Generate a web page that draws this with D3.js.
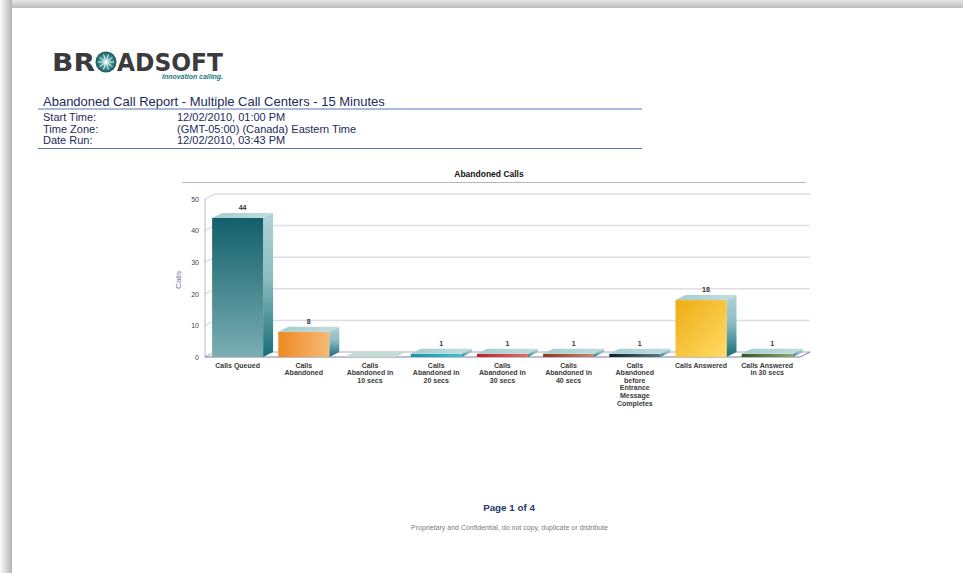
<!DOCTYPE html>
<html>
<head>
<meta charset="utf-8">
<script src="https://cdn.jsdelivr.net/npm/d3@7"></script>
<style>
  html, body { margin: 0; padding: 0; background: #fff; }
  svg { display: block; font-family: "Liberation Sans", Arial, sans-serif; }
</style>
</head>
<body>
<svg id="page" width="963" height="573"></svg>
<script>
// Report data
const categories = [
  "Calls Queued",
  "Calls Abandoned",
  "Calls Abandoned in 10 secs",
  "Calls Abandoned in 20 secs",
  "Calls Abandoned in 30 secs",
  "Calls Abandoned in 40 secs",
  "Calls Abandoned before Entrance Message Completes",
  "Calls Answered",
  "Calls Answered in 30 secs"
];
const categoryLines = [
  ["Calls Queued"],
  ["Calls", "Abandoned"],
  ["Calls", "Abandoned in", "10 secs"],
  ["Calls", "Abandoned in", "20 secs"],
  ["Calls", "Abandoned in", "30 secs"],
  ["Calls", "Abandoned in", "40 secs"],
  ["Calls", "Abandoned", "before", "Entrance", "Message", "Completes"],
  ["Calls Answered"],
  ["Calls Answered", "in 30 secs"]
];
const callCounts = [44, 8, 0, 1, 1, 1, 1, 18, 1];
const yTicks = [0, 10, 20, 30, 40, 50];

const headerLabels = ["Start Time:", "Time Zone:", "Date Run:"];
const headerValues = ["12/02/2010, 01:00 PM", "(GMT-05:00) (Canada) Eastern Time", "12/02/2010, 03:43 PM"];

// Face colours for each bar: [dark, light, gradient direction]
const barColors = [
  ["#125f6a", "#7aaeb3", "v"],
  ["#ee8a22", "#f6b976", "h"],
  ["#9cc8c0", "#c9e0da", "h"],
  ["#1597aa", "#3fc0cc", "h"],
  ["#c41d26", "#e56a6a", "h"],
  ["#8e3516", "#c98a6a", "h"],
  ["#06232b", "#5c7c84", "h"],
  ["#eeac14", "#ffdc66", "d"],
  ["#34561c", "#90a86a", "h"]
];

const svg = d3.select("#page");
const defs = svg.append("defs");

// ---- page shadow ----
const gTop = defs.append("linearGradient").attr("id", "shTop").attr("x1", 0).attr("y1", 0).attr("x2", 0).attr("y2", 1);
gTop.append("stop").attr("offset", 0).attr("stop-color", "#e6e6e6");
gTop.append("stop").attr("offset", 1).attr("stop-color", "#bdbdbd");
const gLeft = defs.append("linearGradient").attr("id", "shLeft").attr("x1", 0).attr("y1", 0).attr("x2", 1).attr("y2", 0);
gLeft.append("stop").attr("offset", 0).attr("stop-color", "#fbfbfb");
gLeft.append("stop").attr("offset", 1).attr("stop-color", "#b4b4b4");
svg.append("rect").attr("x", 0).attr("y", 0).attr("width", 963).attr("height", 8).attr("fill", "url(#shTop)");
svg.append("rect").attr("x", 0).attr("y", 0).attr("width", 12).attr("height", 573).attr("fill", "url(#shLeft)");
svg.append("rect").attr("x", 12).attr("y", 8).attr("width", 951).attr("height", 565).attr("fill", "#fff");

// ---- logo ----
const logo = svg.append("g");
logo.append("text").attr("x", 52).attr("y", 71).attr("font-family", "DejaVu Sans, sans-serif")
  .attr("font-weight", "bold").attr("font-size", 25).attr("fill", "#3b3b3d")
  .attr("textLength", 43).attr("lengthAdjust", "spacingAndGlyphs").text("BR");
logo.append("text").attr("x", 117).attr("y", 71).attr("font-family", "DejaVu Sans, sans-serif")
  .attr("font-weight", "bold").attr("font-size", 25).attr("fill", "#3b3b3d")
  .attr("textLength", 106).attr("lengthAdjust", "spacingAndGlyphs").text("ADSOFT");
const orb = defs.append("radialGradient").attr("id", "orb");
orb.append("stop").attr("offset", 0).attr("stop-color", "#cfe9ea");
orb.append("stop").attr("offset", 0.45).attr("stop-color", "#4e9ea3");
orb.append("stop").attr("offset", 1).attr("stop-color", "#1a555c");
logo.append("circle").attr("cx", 106).attr("cy", 62).attr("r", 10.5).attr("fill", "url(#orb)");
d3.range(10).forEach(i => {
  const a = i * Math.PI / 5;
  logo.append("line").attr("x1", 106).attr("y1", 62)
    .attr("x2", 106 + Math.cos(a) * 8).attr("y2", 62 + Math.sin(a) * 8)
    .attr("stroke", "#ffffff").attr("stroke-width", 1).attr("opacity", 0.85);
});
logo.append("text").attr("x", 162).attr("y", 79).attr("font-size", 6.3).attr("font-weight", "bold")
  .attr("font-style", "italic").attr("fill", "#1d7a80")
  .attr("textLength", 61).attr("lengthAdjust", "spacingAndGlyphs").text("Innovation calling.");

// ---- header ----
svg.append("text").attr("x", 43).attr("y", 106).attr("font-size", 13).attr("fill", "#1d2b5c")
  .text("Abandoned Call Report - Multiple Call Centers - 15 Minutes");
svg.append("line").attr("x1", 38).attr("x2", 642).attr("y1", 109).attr("y2", 109)
  .attr("stroke", "#5476b4").attr("stroke-width", 1);
headerLabels.forEach((t, i) => {
  svg.append("text").attr("x", 43).attr("y", 121 + i * 11.7).attr("font-size", 11).attr("fill", "#1d2b5c").text(t);
  svg.append("text").attr("x", 177).attr("y", 121 + i * 11.7).attr("font-size", 11).attr("fill", "#1d2b5c").text(headerValues[i]);
});
svg.append("line").attr("x1", 38).attr("x2", 642).attr("y1", 148.5).attr("y2", 148.5)
  .attr("stroke", "#5476b4").attr("stroke-width", 1.2);

// ---- chart ----
svg.append("text").attr("x", 489).attr("y", 177).attr("text-anchor", "middle")
  .attr("font-size", 8.5).attr("font-weight", "bold").attr("fill", "#111").text("Abandoned Calls");
svg.append("line").attr("x1", 182).attr("x2", 806).attr("y1", 182.5).attr("y2", 182.5)
  .attr("stroke", "#b3b3c9").attr("stroke-width", 1);

const depthX = 10, depthY = 5;
const x = d3.scaleBand().domain(categories).range([204.5, 800.3]).paddingInner(0.23).paddingOuter(0.115);
const y = d3.scaleLinear().domain([0, 50]).range([357, 199]);

// back-wall grid
const grid = svg.append("g");
yTicks.forEach(t => {
  const yy = y(t);
  grid.append("path")
    .attr("d", `M205,${yy} L${205 + depthX},${yy - depthY} L810,${yy - depthY}`)
    .attr("fill", "none").attr("stroke", t === 0 ? "#c8c8d8" : "#dedee8").attr("stroke-width", 1.5);
});
// left wall edge and floor edge
svg.append("line").attr("x1", 205).attr("x2", 205).attr("y1", y(50)).attr("y2", y(0))
  .attr("stroke", "#b4b4c8").attr("stroke-width", 1);
svg.append("path").attr("d", `M205,${y(0)} L800,${y(0)} L810,${y(0) - depthY}`)
  .attr("fill", "none").attr("stroke", "#7d7da0").attr("stroke-width", 1);

// y axis labels
const yAxis = d3.axisLeft(y).tickValues(yTicks).tickSize(0).tickPadding(6).tickFormat(d3.format("d"));
const ax = svg.append("g").attr("transform", "translate(205,0)").call(yAxis);
ax.select(".domain").remove();
ax.selectAll("text").attr("font-size", 7).attr("fill", "#444").attr("font-family", "Liberation Sans, Arial, sans-serif");

svg.append("text").attr("transform", "translate(181,280) rotate(-90)").attr("text-anchor", "middle")
  .attr("font-size", 8).attr("fill", "#6d6d9c").text("Calls");

// gradients
barColors.forEach((c, i) => {
  let g;
  if (c[2] === "v") g = defs.append("linearGradient").attr("x1", 0).attr("y1", 0).attr("x2", 0).attr("y2", 1);
  else if (c[2] === "d") g = defs.append("linearGradient").attr("x1", 0).attr("y1", 0).attr("x2", 1).attr("y2", 1);
  else g = defs.append("linearGradient").attr("x1", 0).attr("y1", 0).attr("x2", 1).attr("y2", 0);
  g.attr("id", "front" + i);
  g.append("stop").attr("offset", 0).attr("stop-color", c[0]);
  g.append("stop").attr("offset", 1).attr("stop-color", c[1]);
});
const side = defs.append("linearGradient").attr("id", "side").attr("x1", 0).attr("y1", 0).attr("x2", 0).attr("y2", 1);
side.append("stop").attr("offset", 0).attr("stop-color", "#b0d2d5");
side.append("stop").attr("offset", 0.45).attr("stop-color", "#8dbdc1");
side.append("stop").attr("offset", 1).attr("stop-color", "#166d77");
const topG = defs.append("linearGradient").attr("id", "topFace").attr("x1", 0).attr("y1", 0).attr("x2", 1).attr("y2", 0);
topG.append("stop").attr("offset", 0).attr("stop-color", "#a5cccf");
topG.append("stop").attr("offset", 1).attr("stop-color", "#c2dee0");

const bars = svg.append("g").selectAll("g").data(categories).join("g");
bars.each(function (cat, i) {
  const g = d3.select(this);
  const v = callCounts[i];
  const x0 = x(cat), w = x.bandwidth();
  const yt = y(v), yb = y(0);
  // side
  g.append("path")
    .attr("d", `M${x0 + w},${yt} L${x0 + w + depthX},${yt - depthY} L${x0 + w + depthX},${yb - depthY} L${x0 + w},${yb} Z`)
    .attr("fill", "url(#side)");
  // front
  if (v > 0) g.append("rect").attr("x", x0).attr("y", yt).attr("width", w).attr("height", yb - yt)
    .attr("fill", `url(#front${i})`);
  // top
  g.append("path")
    .attr("d", `M${x0},${yt} L${x0 + depthX},${yt - depthY} L${x0 + w + depthX},${yt - depthY} L${x0 + w},${yt} Z`)
    .attr("fill", v > 0 ? "url(#topFace)" : "#c4dcd6");
  // value
  if (v > 0) g.append("text").attr("x", x0 + w / 2 + depthX / 2).attr("y", yt - depthY - 3)
    .attr("text-anchor", "middle").attr("font-size", 7).attr("font-weight", "bold").attr("fill", "#333")
    .text(v);
  // category label
  const lab = g.append("text").attr("text-anchor", "middle").attr("font-size", 7)
    .attr("font-weight", "bold").attr("fill", "#3a3a3a");
  categoryLines[i].forEach((line, k) => {
    lab.append("tspan").attr("x", x0 + w / 2).attr("y", 367.5 + k * 7.6).text(line);
  });
});

// ---- footer ----
svg.append("text").attr("x", 509).attr("y", 511).attr("text-anchor", "middle")
  .attr("font-size", 9.8).attr("font-weight", "bold").attr("fill", "#22386c").text("Page 1 of 4");
svg.append("text").attr("x", 509.5).attr("y", 530).attr("text-anchor", "middle")
  .attr("font-size", 7).attr("fill", "#7a7a7a").text("Proprietary and Confidential, do not copy, duplicate or distribute");
</script>
</body>
</html>
